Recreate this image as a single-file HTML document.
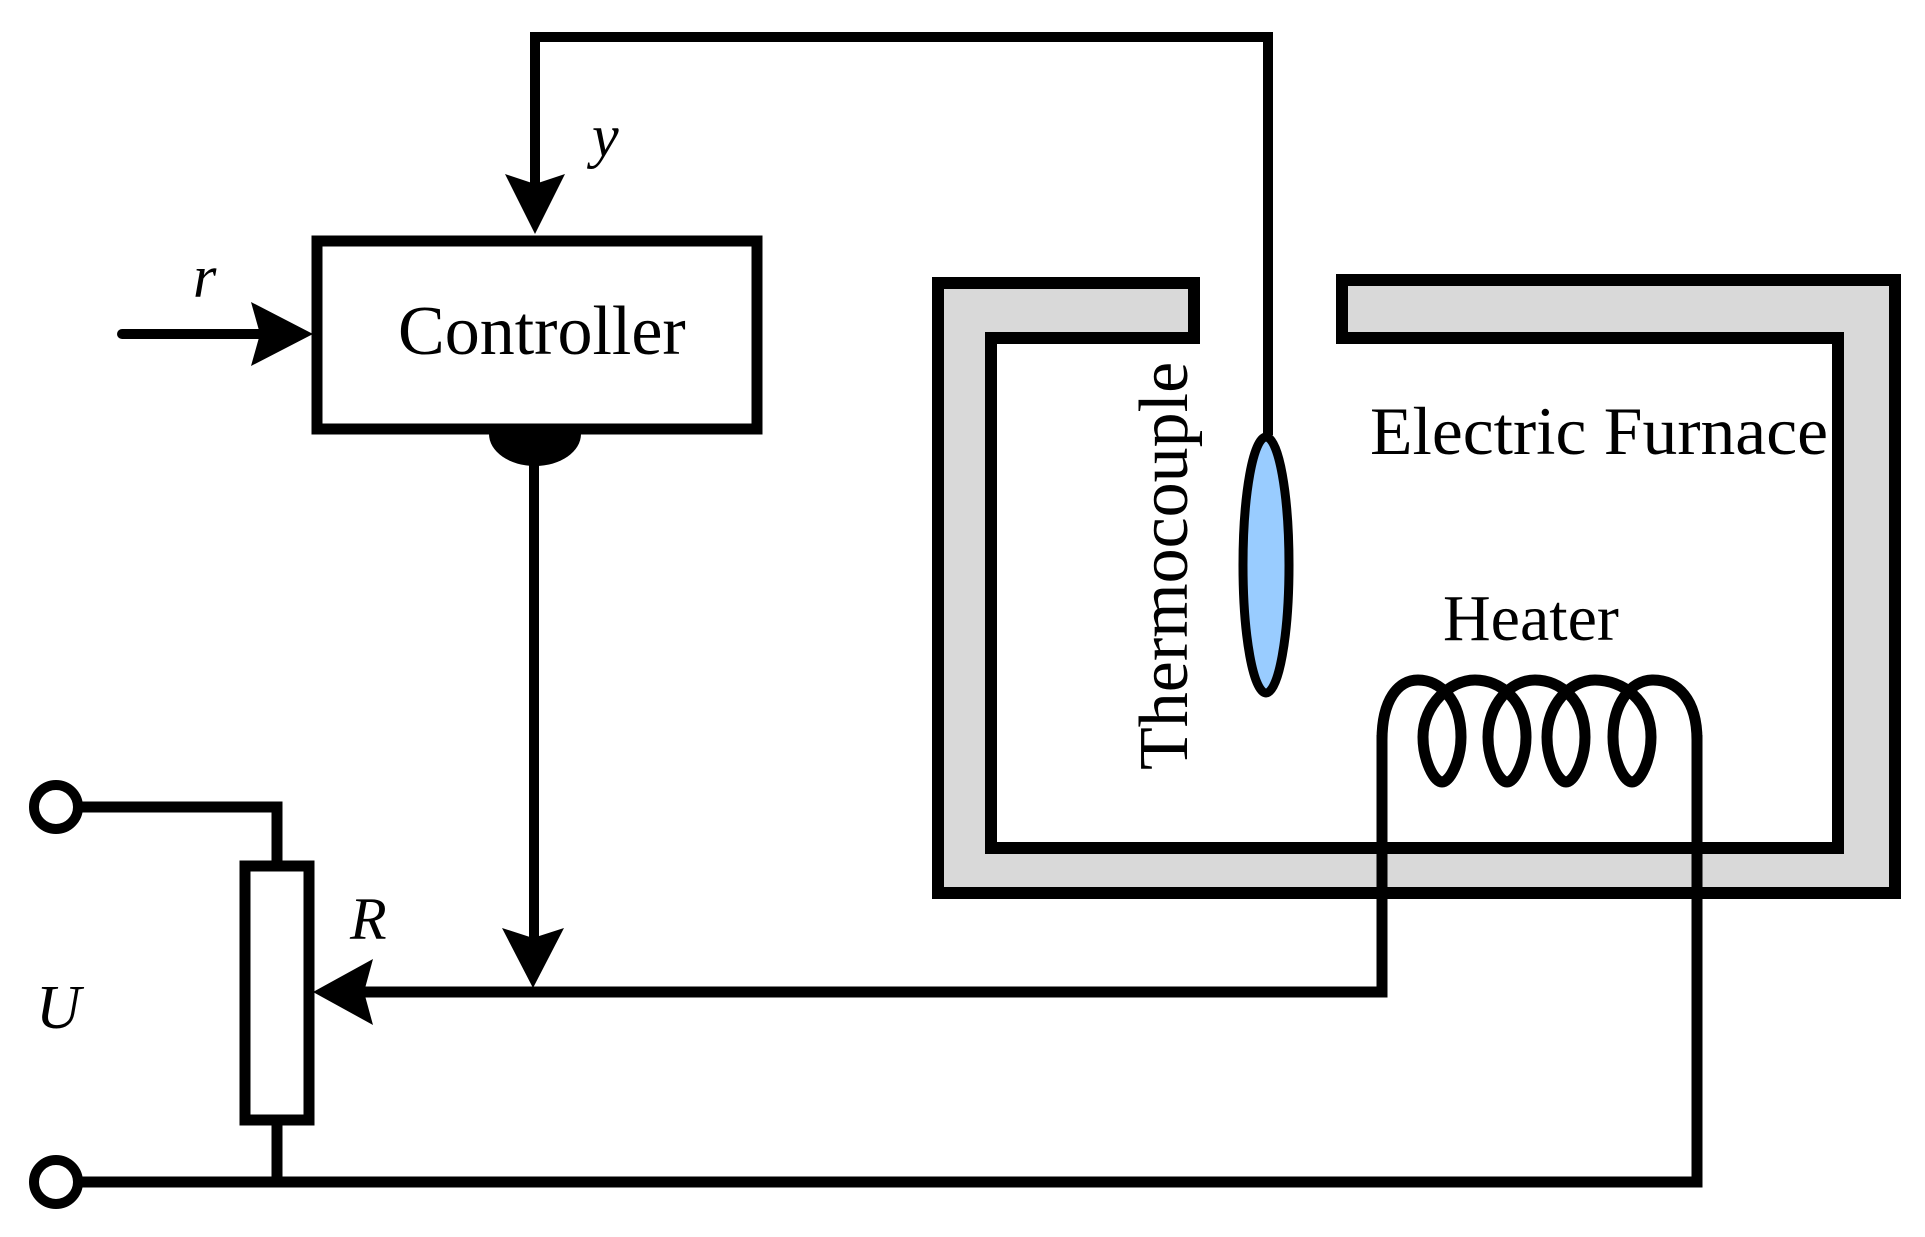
<!DOCTYPE html>
<html><head><meta charset="utf-8"><style>html,body{margin:0;padding:0;background:#fff}svg{display:block}</style></head>
<body>
<svg width="1925" height="1237" viewBox="0 0 1925 1237" xmlns="http://www.w3.org/2000/svg">
<g fill="none" stroke="#000" stroke-width="10">
<polygon points="1194,283 938,283 938,893 1895,893 1895,280 1342,280 1342,338 1838,338 1838,848 991,848 991,338 1194,338" fill="#d9d9d9" stroke-width="12" stroke-linejoin="miter"/>
<polyline points="535,200 535,37 1268,37 1268,435"/>
<rect x="317" y="241" width="440" height="188" stroke-width="11"/>
<line x1="122" y1="334" x2="260" y2="334" stroke-linecap="round"/>
<line x1="534" y1="440" x2="534" y2="945"/>
<polyline points="350,992 1382,992 1382,735" stroke-width="11"/>
<polyline points="78,807 277,807 277,866" stroke-width="11"/>
<circle cx="56" cy="807" r="22" stroke-width="10"/>
<polyline points="78,1182 1697,1182 1697,735" stroke-width="11"/>
<circle cx="56" cy="1182" r="22" stroke-width="10"/>
<line x1="277" y1="1120" x2="277" y2="1182" stroke-width="11"/>
<rect x="245" y="866" width="64" height="254" stroke-width="11"/>
<ellipse cx="1266" cy="565" rx="23" ry="128" fill="#99ccff" stroke-width="9"/>
<path stroke-width="11" d="M1382,740 C1382,700 1398,680 1418,680
 C1440,680 1461,700 1461,737 C1461,760 1450,782 1442,782 C1434,782 1423,760 1423,737 C1423,705 1450,680 1475,680
 C1500,680 1526,700 1526,737 C1526,760 1515,782 1507,782 C1499,782 1488,760 1488,737 C1488,705 1510,680 1535,680
 C1560,680 1585,700 1585,737 C1585,760 1574,782 1566,782 C1558,782 1547,760 1547,737 C1547,705 1570,680 1595,680
 C1622,680 1651,700 1651,737 C1651,760 1640,782 1632,782 C1624,782 1613,760 1613,737 C1613,705 1630,680 1653,680
 C1678,680 1697,700 1697,740"/>
</g>
<path d="M489,434 A46,32 0 0 0 581,434 Z" fill="#000"/>
<g fill="#000">
<polygon points="505,174 535,184 565,174 535,234"/>
<polygon points="251,302 260,334 251,366 313,334"/>
<polygon points="502,928 533,938 564,928 533,988"/>
<polygon points="373,959 364,992 373,1025 313,992"/>
</g>
<g font-family="'Liberation Serif', serif" fill="#000">
<text x="398" y="354" font-size="70">Controller</text>
<text x="1370" y="454" font-size="68" textLength="458" lengthAdjust="spacingAndGlyphs">Electric Furnace</text>
<text x="1443" y="640" font-size="66">Heater</text>
<text x="0" y="0" font-size="70" transform="translate(1187,770) rotate(-90)">Thermocouple</text>
<text x="193" y="297" font-size="60" font-style="italic">r</text>
<text x="592" y="156" font-size="60" font-style="italic">y</text>
<text x="350" y="939" font-size="60" font-style="italic">R</text>
<text x="36" y="1028" font-size="62" font-style="italic">U</text>
</g>
</svg>
</body></html>
